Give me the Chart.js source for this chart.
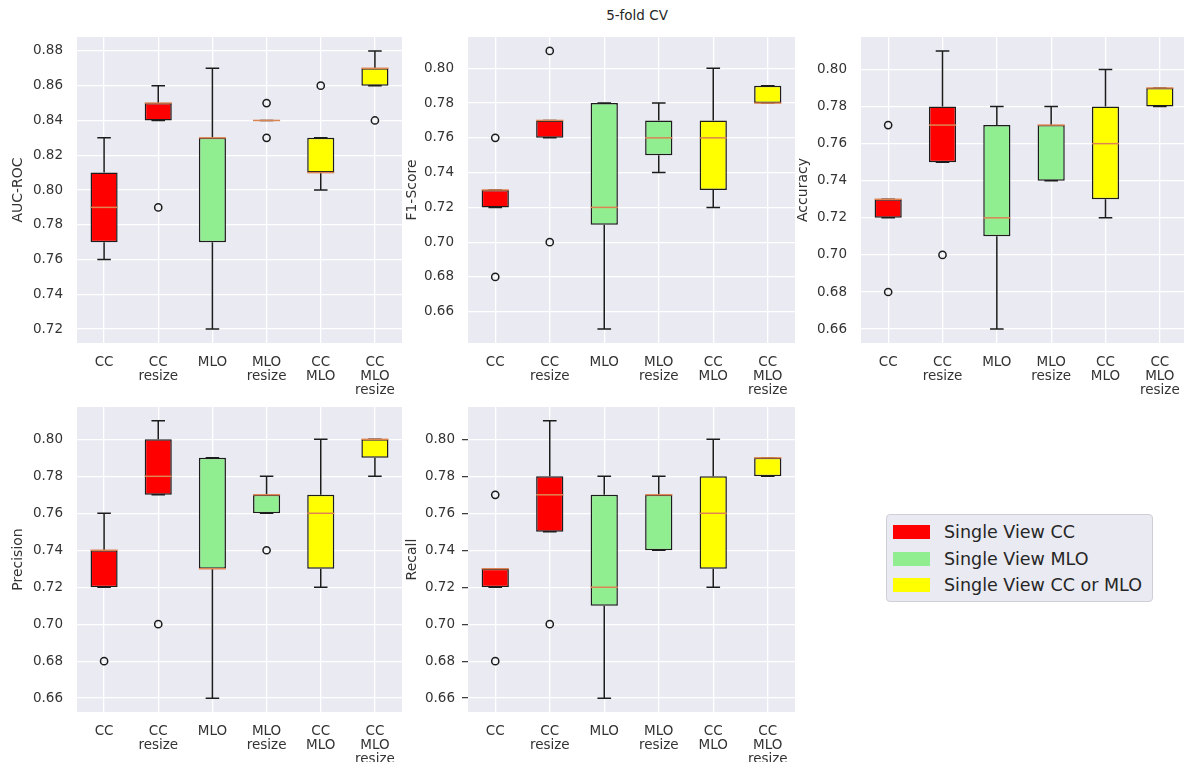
<!DOCTYPE html>
<html>
<head>
<meta charset="utf-8">
<script src="https://cdn.jsdelivr.net/npm/chart.js@4.4.0/dist/chart.umd.min.js"></script>
<style>
    body {
        margin: 0;
        width: 1184px;
        height: 762px;
        overflow: hidden;
        background: #fff;
        position: relative;
        font-family: "DejaVu Sans", sans-serif;
    }
    canvas {
        position: absolute;
    }
    #title {
        position: absolute;
        top: 7px;
        left: 577px;
        width: 120px;
        text-align: center;
        font-size: 13.5px;
        color: #262626;
    }
    #legend {
        position: absolute;
        left: 886px;
        top: 514px;
        width: 265px;
        height: 86px;
        background: #eaeaf2;
        border: 1px solid #cfcfd6;
        border-radius: 4px;
        color: #262626;
        font-size: 17.5px;
    }
    .row {
        position: absolute;
        left: 6px;
        height: 20px;
        line-height: 20px;
        white-space: nowrap;
    }
    .patch {
        display: inline-block;
        width: 37px;
        height: 14px;
        vertical-align: -1px;
        margin-right: 14px;
    }
</style>
</head>
<body>
<div id="title">5-fold CV</div>
<canvas id="auc" width="402" height="370" style="left:0px;top:30px"></canvas>
<canvas id="f1" width="404" height="370" style="left:391px;top:30px"></canvas>
<canvas id="acc" width="403" height="370" style="left:784px;top:30px"></canvas>
<canvas id="prec" width="402" height="362" style="left:0px;top:400px"></canvas>
<canvas id="rec" width="404" height="362" style="left:391px;top:400px"></canvas>
<div id="legend"></div>
<script>
const categories = ["CC", "CC resize", "MLO", "MLO resize", "CC MLO", "CC MLO resize"];
const boxColors = ["#ff0000", "#ff0000", "#90ee90", "#90ee90", "#ffff00", "#ffff00"];
const legendLabels = ["Single View CC", "Single View MLO", "Single View CC or MLO"];
const legendColors = ["#ff0000", "#90ee90", "#ffff00"];

// AUC-ROC
const aucLow = [0.76, 0.84, 0.72, 0.84, 0.80, 0.86];
const aucQ1 = [0.77, 0.84, 0.77, 0.84, 0.81, 0.86];
const aucMed = [0.79, 0.85, 0.83, 0.84, 0.81, 0.87];
const aucQ3 = [0.81, 0.85, 0.83, 0.84, 0.83, 0.87];
const aucHigh = [0.83, 0.86, 0.87, 0.84, 0.83, 0.88];
const aucOut = [[1, 0.79], [3, 0.85], [3, 0.83], [4, 0.86], [5, 0.84]];
const aucTicks = [0.72, 0.74, 0.76, 0.78, 0.80, 0.82, 0.84, 0.86, 0.88];

// F1-Score
const f1Low = [0.72, 0.76, 0.65, 0.74, 0.72, 0.78];
const f1Q1 = [0.72, 0.76, 0.71, 0.75, 0.73, 0.78];
const f1Med = [0.73, 0.77, 0.72, 0.76, 0.76, 0.78];
const f1Q3 = [0.73, 0.77, 0.78, 0.77, 0.77, 0.79];
const f1High = [0.73, 0.77, 0.78, 0.78, 0.80, 0.79];
const f1Out = [[0, 0.76], [0, 0.68], [1, 0.81], [1, 0.70]];

// Accuracy
const accLow = [0.72, 0.75, 0.66, 0.74, 0.72, 0.78];
const accQ1 = [0.72, 0.75, 0.71, 0.74, 0.73, 0.78];
const accMed = [0.73, 0.77, 0.72, 0.77, 0.76, 0.79];
const accQ3 = [0.73, 0.78, 0.77, 0.77, 0.78, 0.79];
const accHigh = [0.73, 0.81, 0.78, 0.78, 0.80, 0.79];
const accOut = [[0, 0.77], [0, 0.68], [1, 0.70]];

// Precision
const precLow = [0.72, 0.77, 0.66, 0.76, 0.72, 0.78];
const precQ1 = [0.72, 0.77, 0.73, 0.76, 0.73, 0.79];
const precMed = [0.74, 0.78, 0.73, 0.77, 0.76, 0.80];
const precQ3 = [0.74, 0.80, 0.79, 0.77, 0.77, 0.80];
const precHigh = [0.76, 0.81, 0.79, 0.78, 0.80, 0.80];
const precOut = [[0, 0.68], [1, 0.70], [3, 0.74]];

// Recall
const recLow = [0.72, 0.75, 0.66, 0.74, 0.72, 0.78];
const recQ1 = [0.72, 0.75, 0.71, 0.74, 0.73, 0.78];
const recMed = [0.73, 0.77, 0.72, 0.77, 0.76, 0.79];
const recQ3 = [0.73, 0.78, 0.77, 0.77, 0.78, 0.79];
const recHigh = [0.73, 0.81, 0.78, 0.78, 0.80, 0.79];
const recOut = [[0, 0.77], [0, 0.68], [1, 0.70]];

const lowerTicks = [0.66, 0.68, 0.70, 0.72, 0.74, 0.76, 0.78, 0.80];

const FONT = "'DejaVu Sans', sans-serif";
const TEXT = "#333333";
const EDGE = "#1c1c1c";
const MEDIAN = "#dd8452";

const panelBg = {
    id: "panelBg",
    beforeDraw(chart) {
        const { ctx, chartArea: a } = chart;
        ctx.save();
        ctx.fillStyle = "#eaeaf2";
        ctx.fillRect(a.left, a.top, a.width, a.height);
        ctx.restore();
    },
};

// whiskers, caps and medians, placed with the chart's own scales
const boxParts = {
    id: "boxParts",
    afterDatasetsDraw(chart) {
        const { ctx } = chart;
        const y = chart.scales.y;
        const stats = chart.data.datasets[0].stats;
        const bars = chart.getDatasetMeta(0).data;
        ctx.save();
        bars.forEach((bar, i) => {
            const half = bar.width / 2;
            const cap = half / 2;
            const yLow = y.getPixelForValue(stats.low[i]);
            const yQ1 = y.getPixelForValue(stats.q1[i]);
            const yQ3 = y.getPixelForValue(stats.q3[i]);
            const yHigh = y.getPixelForValue(stats.high[i]);
            const yMed = y.getPixelForValue(stats.med[i]);

            ctx.strokeStyle = EDGE;
            ctx.lineWidth = 1.5;
            ctx.beginPath();
            ctx.moveTo(bar.x, yQ3);
            ctx.lineTo(bar.x, yHigh);
            ctx.moveTo(bar.x - cap, yHigh);
            ctx.lineTo(bar.x + cap, yHigh);
            ctx.moveTo(bar.x, yQ1);
            ctx.lineTo(bar.x, yLow);
            ctx.moveTo(bar.x - cap, yLow);
            ctx.lineTo(bar.x + cap, yLow);
            ctx.stroke();

            ctx.strokeStyle = MEDIAN;
            ctx.lineWidth = 1.5;
            ctx.beginPath();
            ctx.moveTo(bar.x - half, yMed);
            ctx.lineTo(bar.x + half, yMed);
            ctx.stroke();
        });
        ctx.restore();
    },
};

function makePanel(p) {
    return new Chart(document.getElementById(p.id), {
        type: "bar",
        data: {
            labels: categories,
            datasets: [
                {
                    type: "bar",
                    data: p.q1.map((v, i) => [v, p.q3[i]]),
                    stats: { low: p.low, q1: p.q1, med: p.med, q3: p.q3, high: p.high },
                    backgroundColor: boxColors,
                    borderColor: EDGE,
                    borderWidth: 1.5,
                    borderSkipped: false,
                    categoryPercentage: 1,
                    barPercentage: 0.5,
                    order: 2,
                },
                {
                    type: "line",
                    data: p.out.map(([i, v]) => ({ x: categories[i], y: v })),
                    showLine: false,
                    pointRadius: 3.6,
                    pointBorderWidth: 1.5,
                    pointBorderColor: EDGE,
                    pointBackgroundColor: "rgba(0,0,0,0)",
                    order: 1,
                },
            ],
        },
        options: {
            responsive: false,
            animation: false,
            events: [],
            layout: { autoPadding: false, padding: { top: 7, right: 0, bottom: 0, left: 0 } },
            plugins: {
                legend: { display: false },
                tooltip: { enabled: false },
            },
            scales: {
                x: {
                    type: "category",
                    offset: true,
                    grid: { offset: false, color: "#ffffff", lineWidth: 1.3, drawTicks: false },
                    border: { display: false },
                    ticks: {
                        padding: 12,
                        color: TEXT,
                        autoSkip: false,
                        maxRotation: 0,
                        font: { family: FONT, size: 13.5, lineHeight: "14px" },
                        callback: function (value) {
                            return this.getLabelForValue(value).split(" ");
                        },
                    },
                    afterFit(s) {
                        s.height = p.xHeight;
                        s.paddingLeft = 0;
                        s.paddingRight = 0;
                    },
                },
                y: {
                    min: p.min,
                    max: p.max,
                    grid: {
                        color: "#ffffff",
                        lineWidth: 1.3,
                        drawTicks: p.tickMarks,
                        tickLength: 6,
                        tickColor: TEXT,
                        tickWidth: 1.2,
                    },
                    border: { display: false },
                    ticks: {
                        padding: p.tickMarks ? 7 : 14,
                        color: TEXT,
                        font: { family: FONT, size: 13.5 },
                        callback: (v) => v.toFixed(2),
                    },
                    title: {
                        display: true,
                        text: p.title,
                        color: TEXT,
                        font: { family: FONT, size: 14 },
                        padding: { top: p.titlePad, bottom: 0 },
                    },
                    afterBuildTicks(s) {
                        s.ticks = p.ticks.map((v) => ({ value: v }));
                    },
                    afterFit(s) {
                        s.width = 77;
                        s.paddingTop = 0;
                        s.paddingBottom = 0;
                    },
                },
            },
        },
        plugins: [panelBg, boxParts],
    });
}

makePanel({
    id: "auc", title: "AUC-ROC", titlePad: 9.6, tickMarks: false, xHeight: 57,
    min: 0.712, max: 0.888, ticks: aucTicks,
    low: aucLow, q1: aucQ1, med: aucMed, q3: aucQ3, high: aucHigh, out: aucOut,
});
makePanel({
    id: "f1", title: "F1-Score", titlePad: 12.6, tickMarks: false, xHeight: 57,
    min: 0.642, max: 0.818, ticks: lowerTicks,
    low: f1Low, q1: f1Q1, med: f1Med, q3: f1Q3, high: f1High, out: f1Out,
});
makePanel({
    id: "acc", title: "Accuracy", titlePad: 10.6, tickMarks: false, xHeight: 57,
    min: 0.6525, max: 0.8175, ticks: lowerTicks,
    low: accLow, q1: accQ1, med: accMed, q3: accQ3, high: accHigh, out: accOut,
});
makePanel({
    id: "prec", title: "Precision", titlePad: 9.6, tickMarks: false, xHeight: 50,
    min: 0.6525, max: 0.8175, ticks: lowerTicks,
    low: precLow, q1: precQ1, med: precMed, q3: precQ3, high: precHigh, out: precOut,
});
makePanel({
    id: "rec", title: "Recall", titlePad: 12.6, tickMarks: true, xHeight: 50,
    min: 0.6525, max: 0.8175, ticks: lowerTicks,
    low: recLow, q1: recQ1, med: recMed, q3: recQ3, high: recHigh, out: recOut,
});

const legend = document.getElementById("legend");
legendLabels.forEach((label, i) => {
    const row = document.createElement("div");
    row.className = "row";
    row.style.top = 7 + i * 26.5 + "px";
    row.innerHTML = `<span class="patch" style="background:${legendColors[i]}"></span>${label}`;
    legend.appendChild(row);
});
</script>
</body>
</html>
